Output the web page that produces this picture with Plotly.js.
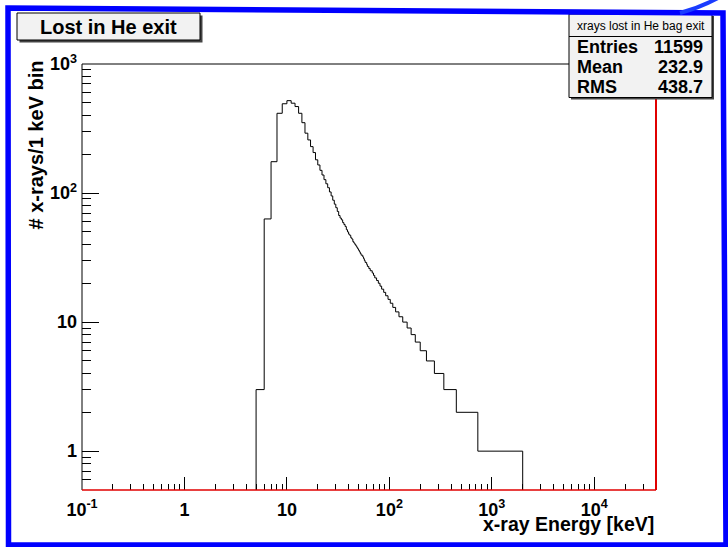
<!DOCTYPE html>
<html>
<head>
<meta charset="utf-8">
<script src="https://cdn.plot.ly/plotly-3.0.1.min.js"></script>
<style>
  html, body { margin: 0; padding: 0; background: #ffffff; }
  #chart { width: 728px; height: 547px; }
</style>
</head>
<body>
<div id="chart"></div>
<script>
// X-ray spectrum lost at the He bag exit, 1 keV bins.
// Consecutive bins with the same content are stored as one run:
// binLowKeV[i] is the lower edge of a run, countsPerKeV[i] its content.
const binLowKeV = [
  5, 6, 7, 8, 9, 10, 11, 12, 13, 14, 15, 16, 17, 18, 19,
  20, 21, 22, 23, 24, 25, 26, 27, 28, 29, 30, 31, 32, 33, 34,
  35, 36, 37, 38, 39, 40, 41, 42, 43, 44, 45, 46, 47, 48, 49,
  50, 51, 52, 53, 54, 55, 56,
  57, 58, 60, 61, 63, 65, 68, 70, 72, 75, 78, 81, 84, 88, 92,
  97, 102, 108, 115, 124, 135, 149, 163, 179, 200, 230, 275, 340, 450, 730
];
const countsPerKeV = [
  3, 63, 175, 415, 492, 520, 497, 468, 415, 351, 291, 258, 229, 206, 181,
  165, 150, 138, 127, 118, 110, 102, 95, 88, 82, 77, 72, 67, 64, 62,
  59, 57, 55, 52, 50, 48, 47, 45, 44, 42, 41, 40, 39, 38, 37,
  36, 35, 34, 33, 33, 32, 31,
  30, 29, 28, 27, 26, 25, 24, 23, 22, 21, 20, 19, 18, 17, 16,
  15, 14, 13, 12, 11, 10, 9, 8, 7, 6, 5, 4, 3, 2, 1
];
const spectrumEndKeV = 2000;

const xRangeKeV = [0.1, 40000];
const yRangeCounts = [0.5, 1000];

const xTickVals = [0.1, 1, 10, 100, 1000, 10000];
const xTickText = ['10<sup>-1</sup>', '1', '10', '10<sup>2</sup>', '10<sup>3</sup>', '10<sup>4</sup>'];
const yTickVals = [1, 10, 100, 1000];
const yTickText = ['1', '10', '10<sup>2</sup>', '10<sup>3</sup>'];

const histTitle = 'Lost in He exit';
const xTitle = 'x-ray Energy [keV]';
const yTitle = '# x-rays/1 keV bin';
const statsTitle = 'xrays lost in He bag exit';
const statsNames = ['Entries', 'Mean', 'RMS'];
const statsValues = ['11599', '232.9', '438.7'];

// ---- canvas geometry (pixels) ----
const W = 728, H = 547;
const M = { l: 82, r: 72, t: 64, b: 57 };
const PW = W - M.l - M.r, PH = H - M.t - M.b;
const px = x => (x - M.l) / PW;          // pixel -> paper x
const py = y => 1 - (y - M.t) / PH;      // pixel -> paper y
const pt = (x, y) => px(x).toFixed(5) + ',' + py(y).toFixed(5);

// minor log ticks: 2..9 in every decade inside the range
function minorTicks(lo, hi) {
  const out = [];
  for (let d = Math.floor(Math.log10(lo)); d <= Math.ceil(Math.log10(hi)); d++) {
    for (let m = 2; m <= 9; m++) {
      const v = m * Math.pow(10, d);
      if (v > lo && v < hi) out.push(v);
    }
  }
  return out;
}

// step outline of the histogram, closed down to the axis floor at both ends
const stepX = [binLowKeV[0]].concat(binLowKeV, [spectrumEndKeV, spectrumEndKeV]);
const stepY = [yRangeCounts[0]].concat(countsPerKeV,
  [countsPerKeV[countsPerKeV.length - 1], yRangeCounts[0]]);

const trace = {
  type: 'scatter', mode: 'lines',
  x: stepX, y: stepY,
  line: { color: '#000000', width: 1, shape: 'hv' },
  hoverinfo: 'skip', showlegend: false
};

const FONT = 'Liberation Sans, Arial, Helvetica, sans-serif';

const axisCommon = {
  type: 'log', showgrid: false, zeroline: false, showline: false,
  ticks: 'inside', tickwidth: 1, tickcolor: '#000000',
  tickmode: 'array',
  tickfont: { family: FONT, size: 18, color: '#000000', weight: 'bold' },
  fixedrange: true
};

const layout = {
  width: W, height: H,
  margin: M,
  paper_bgcolor: '#ffffff', plot_bgcolor: '#ffffff',
  showlegend: false,
  xaxis: Object.assign({}, axisCommon, {
    range: xRangeKeV.map(Math.log10),
    tickvals: xTickVals, ticktext: xTickText, ticklen: 12.8,
    ticklabelstandoff: 7,
    minor: { tickmode: 'array', tickvals: minorTicks(xRangeKeV[0], xRangeKeV[1]),
             ticks: 'inside', ticklen: 6.4, tickwidth: 1, tickcolor: '#000000', showgrid: false }
  }),
  yaxis: Object.assign({}, axisCommon, {
    range: yRangeCounts.map(Math.log10),
    tickvals: yTickVals, ticktext: yTickText, ticklen: 17.2,
    ticklabelstandoff: 4,
    minor: { tickmode: 'array', tickvals: minorTicks(yRangeCounts[0], yRangeCounts[1]),
             ticks: 'inside', ticklen: 8.6, tickwidth: 1, tickcolor: '#000000', showgrid: false }
  }),
  shapes: [
    // frame: left and top in black, bottom and right in red
    { type: 'line', xref: 'paper', yref: 'paper', x0: 0, y0: 0, x1: 0, y1: 1,
      line: { color: '#000000', width: 1 }, layer: 'above' },
    { type: 'line', xref: 'paper', yref: 'paper', x0: 0, y0: 1, x1: 1, y1: 1,
      line: { color: '#000000', width: 1 }, layer: 'above' },
    { type: 'line', xref: 'paper', yref: 'paper', x0: 0, y0: 0, x1: 1, y1: 0,
      line: { color: '#e00000', width: 1.5 }, layer: 'above' },
    { type: 'line', xref: 'paper', yref: 'paper', x0: 1, y0: 0, x1: 1, y1: 1,
      line: { color: '#e00000', width: 2 }, layer: 'above' },

    // histogram title box with shadow
    { type: 'rect', xref: 'paper', yref: 'paper',
      x0: px(19.5), y0: py(15.5), x1: px(202.5), y1: py(42.5),
      fillcolor: '#444444', line: { width: 0 }, layer: 'above' },
    { type: 'rect', xref: 'paper', yref: 'paper',
      x0: px(17), y0: py(13), x1: px(200), y1: py(40),
      fillcolor: '#f2f2f2', line: { color: '#000000', width: 1 }, layer: 'above' },

    // statistics box with shadow and title separator
    { type: 'rect', xref: 'paper', yref: 'paper',
      x0: px(571), y0: py(16), x1: px(714), y1: py(99.5),
      fillcolor: '#444444', line: { width: 0 }, layer: 'above' },
    { type: 'rect', xref: 'paper', yref: 'paper',
      x0: px(569), y0: py(14), x1: px(712), y1: py(97.5),
      fillcolor: '#f2f2f2', line: { color: '#000000', width: 1 }, layer: 'above' },
    { type: 'line', xref: 'paper', yref: 'paper',
      x0: px(569), y0: py(36.5), x1: px(712), y1: py(36.5),
      line: { color: '#000000', width: 1 }, layer: 'above' },

    // blue page border and corner stroke
    { type: 'path', xref: 'paper', yref: 'paper',
      path: 'M' + pt(8, 8) + ' L' + pt(723, 13) + ' L' + pt(726, 545) + ' L' + pt(8.5, 545) + ' Z',
      line: { color: '#0000ff', width: 5.5 }, fillcolor: 'rgba(0,0,0,0)', layer: 'above' },
    { type: 'path', xref: 'paper', yref: 'paper',
      path: 'M' + pt(680, 13) + ' Q' + pt(699, 8) + ' ' + pt(718, -2),
      line: { color: '#1a3cff', width: 4 }, fillcolor: 'rgba(0,0,0,0)', layer: 'above' }
  ],
  annotations: []
};

const ann = layout.annotations;
ann.push({ xref: 'paper', yref: 'paper', x: px(108.5), y: py(27), text: histTitle,
  showarrow: false, xanchor: 'center', yanchor: 'middle',
  font: { family: FONT, size: 20, color: '#000000', weight: 'bold' } });
ann.push({ xref: 'paper', yref: 'paper', x: px(656), y: py(524), text: xTitle,
  showarrow: false, xanchor: 'right', yanchor: 'middle',
  font: { family: FONT, size: 19.5, color: '#000000', weight: 'bold' } });
ann.push({ xref: 'paper', yref: 'paper', x: px(36), y: py(59), text: yTitle, textangle: -90,
  showarrow: false, xanchor: 'center', yanchor: 'top',
  font: { family: FONT, size: 20, color: '#000000', weight: 'bold' } });
ann.push({ xref: 'paper', yref: 'paper', x: px(640.5), y: py(25.5), text: statsTitle,
  showarrow: false, xanchor: 'center', yanchor: 'middle',
  font: { family: FONT, size: 12, color: '#000000' } });
const rowY = [46.8, 67.2, 87.5];
statsNames.forEach((name, i) => {
  ann.push({ xref: 'paper', yref: 'paper', x: px(575), y: py(rowY[i]), text: name,
    showarrow: false, xanchor: 'left', yanchor: 'middle',
    font: { family: FONT, size: 18, color: '#000000', weight: 'bold' } });
  ann.push({ xref: 'paper', yref: 'paper', x: px(705), y: py(rowY[i]), text: statsValues[i],
    showarrow: false, xanchor: 'right', yanchor: 'middle',
    font: { family: FONT, size: 18, color: '#000000', weight: 'bold' } });
});

Plotly.newPlot('chart', [trace], layout, { displayModeBar: false, staticPlot: true });
</script>
</body>
</html>
